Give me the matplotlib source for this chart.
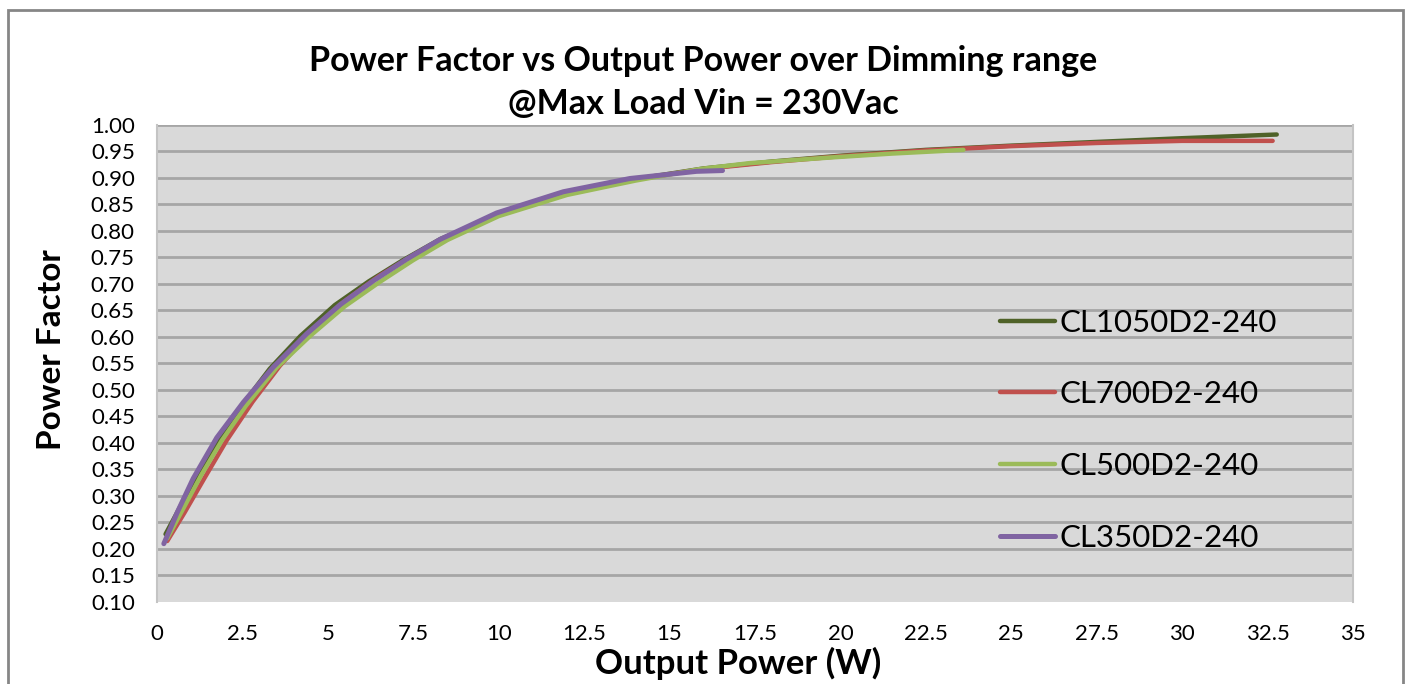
import matplotlib.pyplot as plt
from matplotlib.patches import Rectangle

plt.rcParams["font.family"] = ["Lato", "DejaVu Sans"]

# Series (Output Power W, Power Factor)
cl1050_x = [0.25, 0.7, 1.2, 1.8, 2.5, 3.3, 4.2, 5.2, 6.2, 7.2, 8.3, 10, 12, 14, 16, 18, 20, 22.5, 25, 27.5, 30, 32.77]
cl1050_y = [0.228, 0.282, 0.343, 0.407, 0.472, 0.54, 0.602, 0.66, 0.705, 0.745, 0.785, 0.83, 0.87, 0.898, 0.918, 0.931, 0.942, 0.953, 0.961, 0.968, 0.975, 0.982]

cl700_x = [0.3, 0.8, 1.4, 2.04, 2.8, 3.6, 4.5, 5.5, 6.5, 7.5, 8.5, 10, 12, 14, 16, 18, 20, 22.5, 25, 27.5, 30, 32.65]
cl700_y = [0.215, 0.268, 0.335, 0.405, 0.478, 0.546, 0.61, 0.668, 0.715, 0.754, 0.79, 0.83, 0.87, 0.897, 0.917, 0.93, 0.941, 0.952, 0.96, 0.966, 0.97, 0.970]

cl500_x = [0.3, 0.8, 1.3, 1.9, 2.6, 3.5, 4.5, 5.5, 6.5, 7.5, 8.5, 10, 12, 14, 15.9, 17.35, 19.8, 21.5, 23.6]
cl500_y = [0.22, 0.28, 0.34, 0.405, 0.47, 0.542, 0.603, 0.658, 0.703, 0.745, 0.783, 0.828, 0.868, 0.895, 0.917, 0.928, 0.939, 0.946, 0.953]

cl350_x = [0.2, 0.6, 1.06, 1.75, 2.53, 3.4, 4.38, 5.36, 6.33, 7.31, 8.28, 9.94, 11.89, 13.84, 15.79, 16.55]
cl350_y = [0.21, 0.27, 0.333, 0.410, 0.477, 0.543, 0.606, 0.661, 0.706, 0.747, 0.784, 0.834, 0.874, 0.899, 0.9125, 0.914]

series_names = ["CL1050D2-240", "CL700D2-240", "CL500D2-240", "CL350D2-240"]
series_colors = ["#4F6228", "#C0504D", "#9BBB59", "#8064A2"]

x_ticks = [0, 2.5, 5, 7.5, 10, 12.5, 15, 17.5, 20, 22.5, 25, 27.5, 30, 32.5, 35]
x_tick_labels = ["0", "2.5", "5", "7.5", "10", "12.5", "15", "17.5", "20", "22.5", "25", "27.5", "30", "32.5", "35"]
y_ticks = [0.10 + 0.05 * i for i in range(19)]

fig = plt.figure(figsize=(14.08, 6.84), dpi=100)
ax = fig.add_axes([0.1115, 0.1199, 0.8494, 0.6974])
ax.set_facecolor("#D9D9D9")

data = [(cl1050_x, cl1050_y), (cl700_x, cl700_y), (cl500_x, cl500_y), (cl350_x, cl350_y)]
for (xs, ys), name, col in zip(data, series_names, series_colors):
    lw = 3.6 if name == "CL350D2-240" else 3.2
    ax.plot(xs, ys, color=col, lw=lw, label=name, solid_capstyle="round", solid_joinstyle="round")

ax.set_xlim(0, 35)
ax.set_ylim(0.10, 1.00)
ax.set_xticks(x_ticks)
ax.set_xticklabels(x_tick_labels)
ax.set_yticks(y_ticks)
ax.set_yticklabels([f"{v:.2f}" for v in y_ticks])
ax.tick_params(axis="both", length=0, labelsize=16)
ax.tick_params(axis="x", pad=16)
ax.tick_params(axis="y", pad=16)

ax.yaxis.grid(True, color="#A6A6A6", lw=2)
ax.set_axisbelow(True)
ax.get_ygridlines()[0].set_visible(False)

for s in ["top", "bottom"]:
    ax.spines[s].set_visible(False)
for s in ["left", "right"]:
    ax.spines[s].set_color("#C4C4C4")
    ax.spines[s].set_linewidth(1.5)

ax.set_xlabel("Output Power (W)", fontsize=25, fontweight="bold", labelpad=2, x=0.486)
ax.set_ylabel("Power Factor", fontsize=24, fontweight="bold", labelpad=18, y=0.528)

leg = ax.legend(loc="upper left", bbox_to_anchor=(0.705, 0.615), frameon=False,
                fontsize=22.5, handlelength=1.75, handletextpad=0.15,
                labelspacing=1.4, borderpad=0, borderaxespad=0)

fig.text(0.4995, 0.911, "Power Factor vs Output Power over Dimming range",
         ha="center", va="center", fontsize=24.5, fontweight="bold")
fig.text(0.4995, 0.848, "@Max Load Vin = 230Vac",
         ha="center", va="center", fontsize=24.5, fontweight="bold")

# outer chart frame
fig.patches.append(Rectangle((0.0057, -0.05), 0.9908, 1.035, transform=fig.transFigure,
                             fill=False, edgecolor="#868686", lw=2))

fig.savefig("out.png", dpi=100)
